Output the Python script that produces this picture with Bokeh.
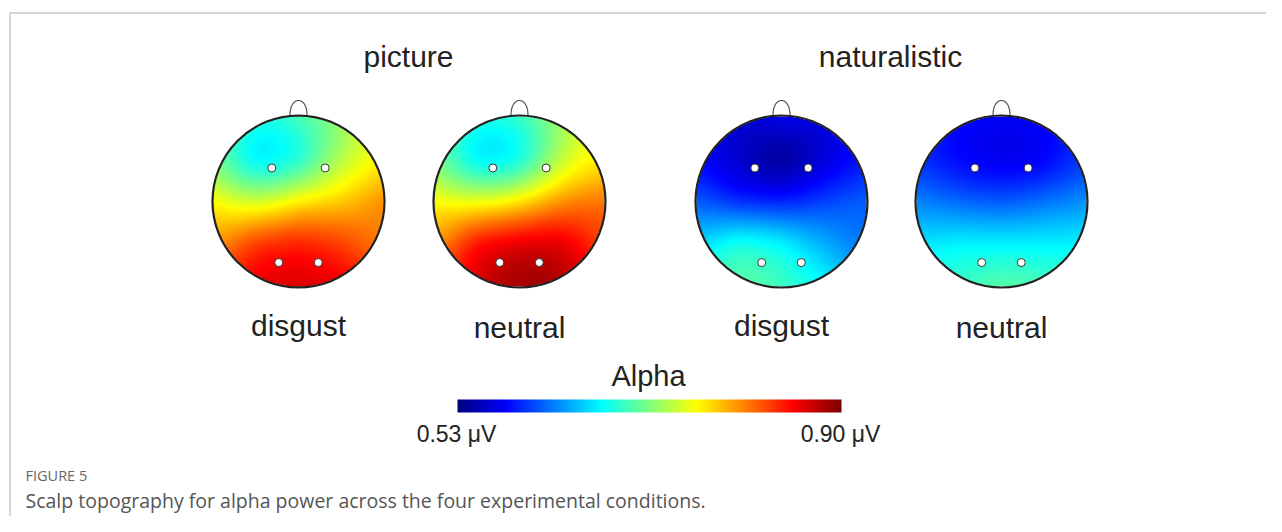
import numpy as np
from bokeh.plotting import figure
from bokeh.models import Range1d, LinearColorMapper
from bokeh.core.properties import value
from bokeh.embed import file_html
from bokeh.resources import INLINE

# ---------------- data ----------------
groups = ["picture", "naturalistic"]
conditions = ["disgust", "neutral", "disgust", "neutral"]
vmin, vmax = 0.53, 0.90
cbar_title = "Alpha"
cbar_labels = ["0.53 \u03bcV", "0.90 \u03bcV"]

# alpha power (uV) read on a 5x5 grid over the head: rows front(top)->back, cols left->right
grid_x = [-1.0, -0.5, 0.0, 0.5, 1.0]
grid_y = [1.0, 0.5, 0.0, -0.5, -1.0]
picture_disgust = [
    [0.72, 0.685, 0.695, 0.725, 0.76],
    [0.715, 0.67, 0.685, 0.735, 0.765],
    [0.76, 0.745, 0.765, 0.78, 0.80],
    [0.80, 0.83, 0.84, 0.83, 0.81],
    [0.84, 0.86, 0.865, 0.86, 0.84],
]
picture_neutral = [
    [0.72, 0.685, 0.69, 0.73, 0.77],
    [0.715, 0.67, 0.68, 0.74, 0.77],
    [0.76, 0.755, 0.77, 0.80, 0.81],
    [0.80, 0.845, 0.86, 0.86, 0.83],
    [0.84, 0.865, 0.885, 0.88, 0.85],
]
naturalistic_disgust = [
    [0.58, 0.565, 0.57, 0.57, 0.585],
    [0.58, 0.56, 0.545, 0.565, 0.585],
    [0.61, 0.595, 0.59, 0.60, 0.61],
    [0.655, 0.675, 0.665, 0.64, 0.62],
    [0.69, 0.70, 0.69, 0.67, 0.645],
]
naturalistic_neutral = [
    [0.59, 0.58, 0.575, 0.58, 0.595],
    [0.595, 0.58, 0.572, 0.578, 0.60],
    [0.625, 0.615, 0.61, 0.618, 0.63],
    [0.66, 0.665, 0.665, 0.665, 0.665],
    [0.69, 0.69, 0.70, 0.695, 0.69],
]
maps = [picture_disgust, picture_neutral, naturalistic_disgust, naturalistic_neutral]

# electrode positions (normalised head coordinates)
elec_x = [-0.31, 0.31, -0.23, 0.23]
elec_y = [0.39, 0.39, -0.71, -0.71]

# ---------------- layout (pixels from the top-left of the picture) ----------------
W, H = 1266, 516
head_cx = [298, 519, 781, 1001]
head_cy = 201
head_r = 86
title_x = [408, 890]


def Y(py):
    return H - py


def jet(t):
    r = np.clip(1.5 - abs(4 * t - 3), 0, 1)
    g = np.clip(1.5 - abs(4 * t - 2), 0, 1)
    b = np.clip(1.5 - abs(4 * t - 1), 0, 1)
    return "#%02x%02x%02x" % (int(r * 255), int(g * 255), int(b * 255))


palette = [jet(i / 255) for i in range(256)]
mapper = LinearColorMapper(palette=palette, low=vmin, high=vmax, nan_color="rgba(0,0,0,0)")


def tps_field(vals, n):
    gx, gy = np.meshgrid(grid_x, grid_y)
    P = np.column_stack([gx.ravel(), gy.ravel()])
    v = np.asarray(vals, float).ravel()
    N = len(P)

    def phi(r):
        with np.errstate(divide="ignore", invalid="ignore"):
            out = r * r * np.log(r)
        return np.nan_to_num(out)

    D = np.sqrt(((P[:, None, :] - P[None, :, :]) ** 2).sum(-1))
    K = phi(D)
    Pm = np.column_stack([np.ones(N), P])
    A = np.zeros((N + 3, N + 3))
    A[:N, :N] = K
    A[:N, N:] = Pm
    A[N:, :N] = Pm.T
    b = np.concatenate([v, np.zeros(3)])
    sol = np.linalg.solve(A, b)
    w, a = sol[:N], sol[N:]
    xs = np.linspace(-1, 1, n)
    ys = np.linspace(-1, 1, n)  # bottom -> top rows
    X, Yg = np.meshgrid(xs, ys)
    Q = np.column_stack([X.ravel(), Yg.ravel()])
    Dq = np.sqrt(((Q[:, None, :] - P[None, :, :]) ** 2).sum(-1))
    f = phi(Dq) @ w + a[0] + a[1] * Q[:, 0] + a[2] * Q[:, 1]
    f = np.clip(f.reshape(n, n), vmin, vmax)
    f[X ** 2 + Yg ** 2 > 1.0] = np.nan
    return f


p = figure(width=W, height=H, output_backend="svg", toolbar_location=None,
           x_range=Range1d(0, W), y_range=Range1d(0, H),
           min_border=0, outline_line_color=None)
p.axis.visible = False
p.grid.visible = False
p.background_fill_color = "white"
p.border_fill_color = "white"

# frame
p.line(x=[9.5, 9.5, W], y=[Y(H), Y(12.5), Y(12.5)], line_color="#c8c8c8", line_width=1.5)

font = value("Liberation Sans")
for i, vals in enumerate(maps):
    cx = head_cx[i]
    f = tps_field(vals, 2 * head_r)
    p.image(image=[f], x=cx - head_r, y=Y(head_cy) - head_r, dw=2 * head_r, dh=2 * head_r,
            color_mapper=mapper)
    # nose
    th = np.linspace(0, np.pi, 40)
    top = Y(head_cy) + head_r
    nx = cx - 8.5 * np.cos(th)
    ny = top - 1 + 16 * np.sin(th) ** 0.8
    p.line(nx, ny, line_color="#555555", line_width=1.2)
    p.circle(x=[cx], y=[Y(head_cy)], radius=head_r, fill_color=None,
             line_color="#222222", line_width=2.2)
    ex = [cx + head_r * e for e in elec_x]
    ey = [Y(head_cy) + head_r * e for e in elec_y]
    p.scatter(ex, ey, size=8, fill_color="white", line_color="#333333", line_width=1)
    p.text(x=[cx], y=[Y(325 if conditions[i] == "disgust" else 327)], text=[conditions[i]],
           text_font=font, text_font_size="30px", text_color="#222222",
           text_align="center", text_baseline="alphabetic")

for j, g in enumerate(groups):
    p.text(x=[title_x[j]], y=[Y(56)], text=[g], text_font=font, text_font_size="30px",
           text_color="#222222", text_align="center", text_baseline="alphabetic")

# colour bar
cb = np.linspace(vmin, vmax, 384)[None, :]
p.image(image=[cb], x=457, y=Y(412), dw=384, dh=13, color_mapper=mapper)
p.text(x=[648], y=[Y(375)], text=[cbar_title], text_font=font, text_font_size="29px",
       text_color="#222222", text_align="center", text_baseline="alphabetic")
p.text(x=[456, 840], y=[Y(433), Y(433)], text=cbar_labels, text_font=font,
       text_font_size="23px", text_color="#222222", text_align="center",
       text_baseline="alphabetic")

# caption
p.text(x=[25], y=[Y(475)], text=["FIGURE 5"], text_font=value("Open Sans"),
       text_font_size="14.5px", text_color="#666666", text_align="left",
       text_baseline="alphabetic")
p.text(x=[25], y=[Y(500)],
       text=["Scalp topography for alpha power across the four experimental conditions."],
       text_font=value("Open Sans"), text_font_size="19.5px", text_color="#555555",
       text_align="left", text_baseline="alphabetic")

open("out.html", "w").write(file_html(p, INLINE))
